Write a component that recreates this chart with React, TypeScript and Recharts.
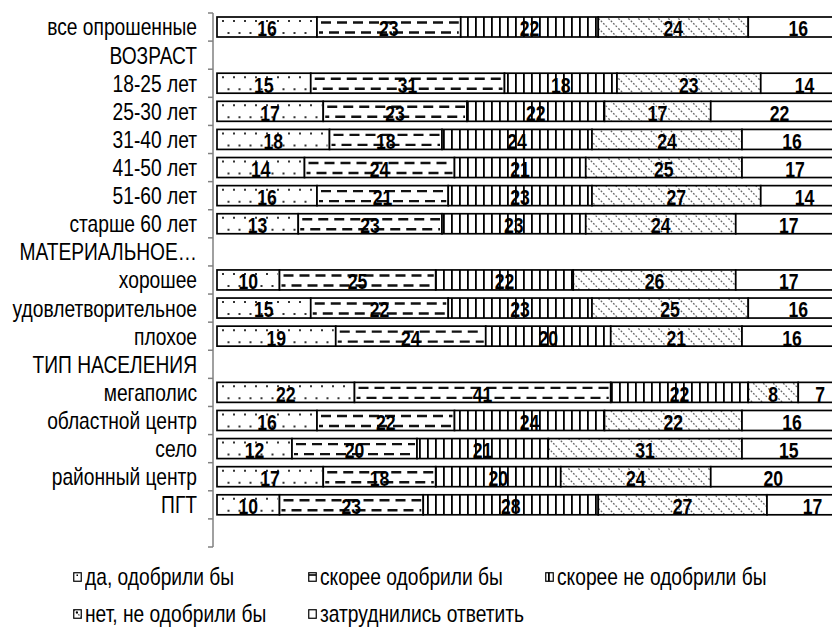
import React from 'react';
import { BarChart, Bar, XAxis, YAxis, LabelList } from 'recharts';

// categories (rows) — header rows and the blank last row have no bars
const categories = [
    'все опрошенные',
    'ВОЗРАСТ',
    '18-25 лет',
    '25-30 лет',
    '31-40 лет',
    '41-50 лет',
    '51-60 лет',
    'старше 60 лет',
    'МАТЕРИАЛЬНОЕ…',
    'хорошее',
    'удовлетворительное',
    'плохое',
    'ТИП НАСЕЛЕНИЯ',
    'мегаполис',
    'областной центр',
    'село',
    'районный центр',
    'ПГТ',
    '',
];

const yesValues = [16, null, 15, 17, 18, 14, 16, 13, null, 10, 15, 19, null, 22, 16, 12, 17, 10, null];
const ratherYesValues = [23, null, 31, 23, 18, 24, 21, 23, null, 25, 22, 24, null, 41, 22, 20, 18, 23, null];
const ratherNoValues = [22, null, 18, 22, 24, 21, 23, 23, null, 22, 23, 20, null, 22, 24, 21, 20, 28, null];
const noValues = [24, null, 23, 17, 24, 25, 27, 24, null, 26, 25, 21, null, 8, 22, 31, 24, 27, null];
const hardValues = [16, null, 14, 22, 16, 17, 14, 17, null, 17, 16, 16, null, 7, 16, 15, 20, 17, null];

const seriesNames = [
    'да, одобрили бы',
    'скорее одобрили бы',
    'скорее не одобрили бы',
    'нет, не одобрили бы',
    'затруднились ответить',
];

const data = categories.map((name, i) => ({
    name,
    yes: yesValues[i],
    ratherYes: ratherYesValues[i],
    ratherNo: ratherNoValues[i],
    no: noValues[i],
    hard: hardValues[i],
}));

// no narrow font installed, so text is squeezed horizontally
const FONT = "'Liberation Sans', Arial, sans-serif";
const SQUEEZE = 0.8;

const WIDTH = 850;
const HEIGHT = 621;
const AXIS_X = 205;
const TOP = 5;
const PLOT_H = 534;
const BAND = PLOT_H / categories.length;

function CategoryTick(props: any) {
    const { y, payload, index } = props;
    const isLast = index === categories.length - 1;
    return (
        <g>
            <line x1={AXIS_X - 5} x2={AXIS_X} y1={y - BAND / 2} y2={y - BAND / 2} stroke="#808080" strokeWidth={1.5} />
            {isLast && (
                <line x1={AXIS_X - 5} x2={AXIS_X} y1={y + BAND / 2} y2={y + BAND / 2} stroke="#808080" strokeWidth={1.5} />
            )}
            <text
                transform={`translate(${AXIS_X - 16},${y}) scale(${SQUEEZE},1)`}
                dy="0.35em"
                textAnchor="end"
                fontSize={24}
                fontFamily={FONT}
                fill="#000"
            >
                {payload.value}
            </text>
        </g>
    );
}

// bar shapes: white box + pattern marks + black border
function makeShape(kind: string) {
    return (props: any) => {
        const { x, y, width, height } = props;
        if (!width || width <= 0 || !height) return null;
        const x0 = x + 2;
        const x1 = x + width - 2;
        return (
            <g>
                <rect
                    x={x}
                    y={y}
                    width={width}
                    height={height}
                    fill={kind === 'no' ? 'url(#pHatch)' : kind === 'ratherNo' ? 'url(#pVlines)' : '#fff'}
                />
                {kind === 'yes' && (
                    <>
                        <line x1={x0} x2={x1} y1={y + 4} y2={y + 4} stroke="#333" strokeWidth={2} strokeDasharray="2 9" strokeDashoffset={-3} />
                        <line x1={x0} x2={x1} y1={y + height - 4} y2={y + height - 4} stroke="#333" strokeWidth={2} strokeDasharray="2 9" strokeDashoffset={-8.5} />
                    </>
                )}
                {kind === 'ratherYes' && (
                    <>
                        <line x1={x0} x2={x1} y1={y + 5.5} y2={y + 5.5} stroke="#111" strokeWidth={2.4} strokeDasharray="10 6" strokeDashoffset={-2} />
                        <line x1={x0} x2={x1} y1={y + height - 4.5} y2={y + height - 4.5} stroke="#111" strokeWidth={2.4} strokeDasharray="10 6" strokeDashoffset={-10} />
                    </>
                )}
                <rect x={x} y={y} width={width} height={height} fill="none" stroke="#000" strokeWidth={1.7} />
            </g>
        );
    };
}

function BarLabel(props: any) {
    const { value } = props;
    if (value === null || value === undefined) return null;
    const vb = props.viewBox || props;
    const cx = vb.x + vb.width / 2;
    const cy = vb.y + vb.height / 2 + 1.5;
    return (
        <text
            transform={`translate(${cx},${cy}) scale(${SQUEEZE},1)`}
            dy="0.36em"
            textAnchor="middle"
            fontSize={22}
            fontWeight="bold"
            fontFamily={FONT}
            fill="#000"
        >
            {value}
        </text>
    );
}

function Patterns() {
    return (
        <defs>
            <pattern id="pVlines" width="8" height="10" patternUnits="userSpaceOnUse">
                <rect width="8" height="10" fill="#fff" />
                <rect x="3" y="0" width="1.8" height="10" fill="#000" />
            </pattern>
            <pattern id="pHatch" width="10" height="10" patternUnits="userSpaceOnUse">
                <rect width="10" height="10" fill="#fff" />
                <path d="M-2,-2 L12,12 M-2,8 L2,12 M8,-2 L12,2" stroke="#666" strokeWidth="1.3" strokeDasharray="1.8 1.6" />
            </pattern>
        </defs>
    );
}

const seriesKeys = ['yes', 'ratherYes', 'ratherNo', 'no', 'hard'];
const markerFills = ['#fff', '#fff', 'url(#pVlines)', 'url(#pHatch)', '#fff'];

function LegendMarker({ index }: { index: number }) {
    return (
        <svg width={9} height={10} style={{ display: 'block' }}>
            <rect x={0.75} y={0.75} width={7.5} height={8.5} fill={markerFills[index]} stroke="#000" strokeWidth={1.2} />
            {index === 0 && <rect x={3.5} y={2.5} width={1.5} height={1.5} fill="#000" />}
            {index === 1 && <rect x={1} y={2.2} width={7} height={1.6} fill="#000" />}
            {index === 3 && <rect x={3} y={2.5} width={2} height={2} fill="#000" />}
        </svg>
    );
}

const legendCols = [65, 300, 537];
const legendRows = [569, 606];

export default function App() {
    return (
        <div style={{ position: 'relative', width: 832, height: HEIGHT, overflow: 'hidden' }}>
            <BarChart
                width={WIDTH}
                height={HEIGHT}
                data={data}
                layout="vertical"
                margin={{ top: TOP, right: 0, bottom: HEIGHT - TOP - PLOT_H, left: 0 }}
            >
                <Patterns />
                <XAxis type="number" hide domain={[-0.64, 102.56]} allowDataOverflow />
                <YAxis
                    type="category"
                    dataKey="name"
                    width={AXIS_X}
                    interval={0}
                    tickLine={false}
                    axisLine={{ stroke: '#808080', strokeWidth: 1.5 }}
                    tick={<CategoryTick />}
                />
                {seriesKeys.map((key) => (
                    <Bar
                        key={key}
                        dataKey={key}
                        stackId="a"
                        fill="#fff"
                        barSize={20}
                        shape={makeShape(key)}
                        isAnimationActive={false}
                    >
                        <LabelList dataKey={key} position="center" content={<BarLabel />} />
                    </Bar>
                ))}
            </BarChart>
            {seriesNames.map((name, i) => (
                <div
                    key={name}
                    style={{
                        position: 'absolute',
                        left: legendCols[i % 3],
                        top: legendRows[Math.floor(i / 3)] - 13,
                        height: 26,
                        display: 'flex',
                        alignItems: 'center',
                        gap: 3,
                        fontFamily: FONT,
                        fontSize: 24,
                        whiteSpace: 'nowrap',
                    }}
                >
                    <LegendMarker index={i} />
                    <span style={{ display: 'inline-block', transform: `scaleX(${SQUEEZE})`, transformOrigin: 'left center' }}>
                        {name}
                    </span>
                </div>
            ))}
        </div>
    );
}
